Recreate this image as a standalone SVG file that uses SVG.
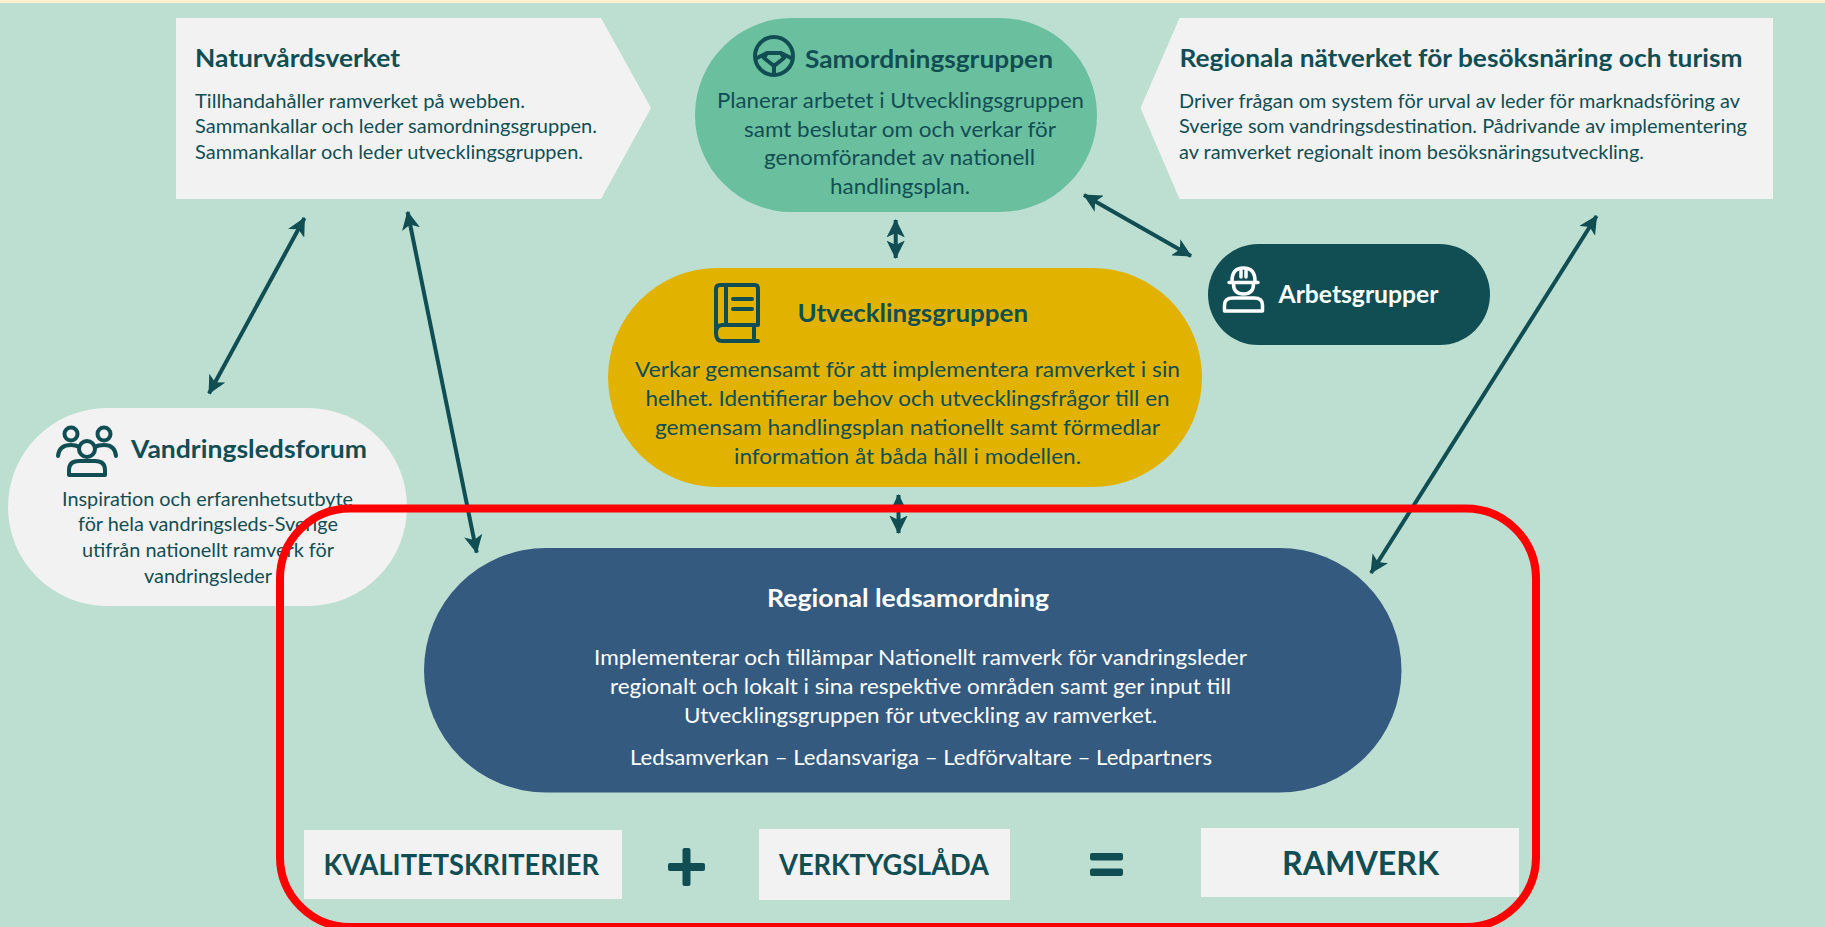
<svg xmlns="http://www.w3.org/2000/svg" width="1825" height="927" viewBox="0 0 1825 927">
<style>
text{font-family:Lato,"Liberation Sans",sans-serif;fill:#114E54}
.t{font-weight:700;font-size:24px}
.b{font-size:21.5px}
.s{font-size:19px}
.w{fill:#fff}
.big{font-weight:700;font-size:29px}
.i{fill:none;stroke:#114E54;stroke-width:4;stroke-linecap:round;stroke-linejoin:round}
.c{fill:none;stroke:#114E54;stroke-width:4;marker-start:url(#a);marker-end:url(#a)}
</style>
<defs>
<marker id="a" viewBox="0 0 10 10" refX="9.500" refY="5" markerWidth="4.600" markerHeight="4.600" orient="auto-start-reverse"><path d="M0 0L10 5L0 10L2.500 5Z" fill="#114E54"/></marker>
</defs>
<rect width="1825" height="927" fill="#BDDFD1"/>
<rect width="1825" height="3" fill="#FFF2CC"/>
<g id="naturvardsverket">
<polygon points="176,18 601,18 651,108 601,199 176,199" fill="#F2F2F2"/>
<text class="t" x="195" y="67" textLength="205" lengthAdjust="spacingAndGlyphs">Naturvårdsverket</text>
<text class="s" x="195" y="108" textLength="330" lengthAdjust="spacingAndGlyphs">Tillhandahåller ramverket på webben.</text>
<text class="s" x="195" y="133" textLength="402" lengthAdjust="spacingAndGlyphs">Sammankallar och leder samordningsgruppen.</text>
<text class="s" x="195" y="159" textLength="388" lengthAdjust="spacingAndGlyphs">Sammankallar och leder utvecklingsgruppen.</text>
</g>
<g id="samordningsgruppen">
<rect x="695" y="18" width="402" height="194" rx="97" fill="#6ABF9E"/>
<circle class="i" cx="774" cy="56" r="19"/>
<path class="i" d="M757 58L767 53H781L791 58M767 53L764 58L774 66L784 58L781 53M774 66V74" stroke-width="3.500"/>
<text class="t" x="805" y="68" textLength="248" lengthAdjust="spacingAndGlyphs">Samordningsgruppen</text>
<text class="b" x="717" y="108" textLength="367" lengthAdjust="spacingAndGlyphs">Planerar arbetet i Utvecklingsgruppen</text>
<text class="b" x="744" y="137" textLength="312" lengthAdjust="spacingAndGlyphs">samt beslutar om och verkar för</text>
<text class="b" x="764" y="165" textLength="271" lengthAdjust="spacingAndGlyphs">genomförandet av nationell</text>
<text class="b" x="830" y="194" textLength="140" lengthAdjust="spacingAndGlyphs">handlingsplan.</text>
</g>
<g id="regionala-natverket">
<polygon points="1179.500,18 1773,18 1773,199 1179.500,199 1140.500,108" fill="#F2F2F2"/>
<text class="t" x="1179.500" y="67" textLength="563" lengthAdjust="spacingAndGlyphs">Regionala nätverket för besöksnäring och turism</text>
<text class="s" x="1179" y="108" textLength="561" lengthAdjust="spacingAndGlyphs">Driver frågan om system för urval av leder för marknadsföring av</text>
<text class="s" x="1179" y="133" textLength="568" lengthAdjust="spacingAndGlyphs">Sverige som vandringsdestination. Pådrivande av implementering</text>
<text class="s" x="1179" y="159" textLength="465" lengthAdjust="spacingAndGlyphs">av ramverket regionalt inom besöksnäringsutveckling.</text>
</g>
<g id="utvecklingsgruppen">
<rect x="608" y="268" width="594" height="219" rx="109.500" fill="#E1B300"/>
<path class="i" d="M716 333V289Q716 285 720 285H755Q758 285 758 289V325H722Q716 325 716 333Q716 341 722 341H758M726 285V325M733 299H752M733 309H752M754 326V341"/>
<text class="t" x="797.500" y="322" textLength="230.500" lengthAdjust="spacingAndGlyphs">Utvecklingsgruppen</text>
<text class="b" x="635" y="377" textLength="545" lengthAdjust="spacingAndGlyphs">Verkar gemensamt för att implementera ramverket i sin</text>
<text class="b" x="645.500" y="406" textLength="524" lengthAdjust="spacingAndGlyphs">helhet. Identifierar behov och utvecklingsfrågor till en</text>
<text class="b" x="655" y="435" textLength="505" lengthAdjust="spacingAndGlyphs">gemensam handlingsplan nationellt samt förmedlar</text>
<text class="b" x="734" y="464" textLength="347" lengthAdjust="spacingAndGlyphs">information åt båda håll i modellen.</text>
</g>
<g id="arbetsgrupper">
<rect x="1208" y="244" width="282" height="101" rx="50.500" fill="#114E54"/>
<path d="M1232 281Q1232 268 1243.500 268Q1255 268 1255 281M1229 282.500H1258M1233.500 284Q1233.500 294 1243.500 294Q1253.500 294 1253.500 284M1241 271V277M1246 271V277M1224.500 311V305Q1224.500 298 1233 298H1254Q1262.500 298 1262.500 305V311Z" fill="none" stroke="#fff" stroke-width="3.500" stroke-linejoin="round" stroke-linecap="round"/>
<text class="t w" x="1278.500" y="303" textLength="160" lengthAdjust="spacingAndGlyphs">Arbetsgrupper</text>
</g>
<g id="vandringsledsforum">
<rect x="8" y="408" width="399" height="198" rx="99" fill="#F2F2F2"/>
<g class="i"><circle cx="71" cy="434" r="6.500"/><circle cx="104" cy="434" r="6.500"/><circle cx="87" cy="449" r="8"/><path d="M58 456Q59 445 71 445Q76 445 79 447M95 447Q98 445 104 445Q115 445 116 456M69 475V470Q69 461 79 461H95Q105 461 105 470V475Z"/></g>
<text class="t" x="131" y="458" textLength="236" lengthAdjust="spacingAndGlyphs">Vandringsledsforum</text>
<text class="s" x="62" y="506" textLength="291" lengthAdjust="spacingAndGlyphs">Inspiration och erfarenhetsutbyte</text>
<text class="s" x="78" y="531" textLength="260" lengthAdjust="spacingAndGlyphs">för hela vandringsleds-Sverige</text>
<text class="s" x="82" y="557" textLength="252" lengthAdjust="spacingAndGlyphs">utifrån nationellt ramverk för</text>
<text class="s" x="144" y="583" textLength="128" lengthAdjust="spacingAndGlyphs">vandringsleder</text>
</g>
<g id="regional-ledsamordning">
<rect x="424" y="548" width="977.500" height="244.500" rx="122.250" fill="#355A80"/>
<text class="t w" x="767" y="607" textLength="282" lengthAdjust="spacingAndGlyphs">Regional ledsamordning</text>
<text class="b w" x="594" y="665" textLength="653" lengthAdjust="spacingAndGlyphs">Implementerar och tillämpar Nationellt ramverk för vandringsleder</text>
<text class="b w" x="610" y="694" textLength="621" lengthAdjust="spacingAndGlyphs">regionalt och lokalt i sina respektive områden samt ger input till</text>
<text class="b w" x="684" y="723" textLength="473" lengthAdjust="spacingAndGlyphs">Utvecklingsgruppen för utveckling av ramverket.</text>
<text class="b w" x="630" y="765" textLength="582" lengthAdjust="spacingAndGlyphs">Ledsamverkan – Ledansvariga – Ledförvaltare – Ledpartners</text>
</g>
<g id="connectors">
<path class="c" d="M209 393.500L304.500 218"/>
<path class="c" d="M407.600 212L476.700 552.700"/>
<path class="c" d="M895.700 220V258"/>
<path class="c" d="M898.500 495V533"/>
<path class="c" d="M1084 195L1191 256"/>
<path class="c" d="M1371 573L1596.600 216"/>
</g>
<g id="frame">
<rect x="280" y="508.500" width="1256" height="418.500" rx="70" fill="none" stroke="#FF0000" stroke-width="8"/>
</g>
<g id="kvalitetskriterier">
<rect x="304" y="830" width="318" height="69" fill="#F2F2F2"/>
<text class="big" x="323.500" y="875" textLength="275.500" lengthAdjust="spacingAndGlyphs">KVALITETSKRITERIER</text>
</g>
<g id="plus"><rect x="668" y="863" width="37" height="8" rx="2" fill="#114E54"/><rect x="682.500" y="848" width="8" height="38" rx="2" fill="#114E54"/></g>
<g id="verktygslada">
<rect x="759" y="829" width="251" height="71" fill="#F2F2F2"/>
<text class="big" x="779" y="875" textLength="210" lengthAdjust="spacingAndGlyphs">VERKTYGSLÅDA</text>
</g>
<g id="equals"><rect x="1090" y="853" width="33" height="7.500" rx="2" fill="#114E54"/><rect x="1090" y="868.500" width="33" height="7.500" rx="2" fill="#114E54"/></g>
<g id="ramverk">
<rect x="1201" y="828" width="318" height="69" fill="#F2F2F2"/>
<text class="big" x="1282" y="875" textLength="157" lengthAdjust="spacingAndGlyphs" style="font-size:32px">RAMVERK</text>
</g>
</svg>
